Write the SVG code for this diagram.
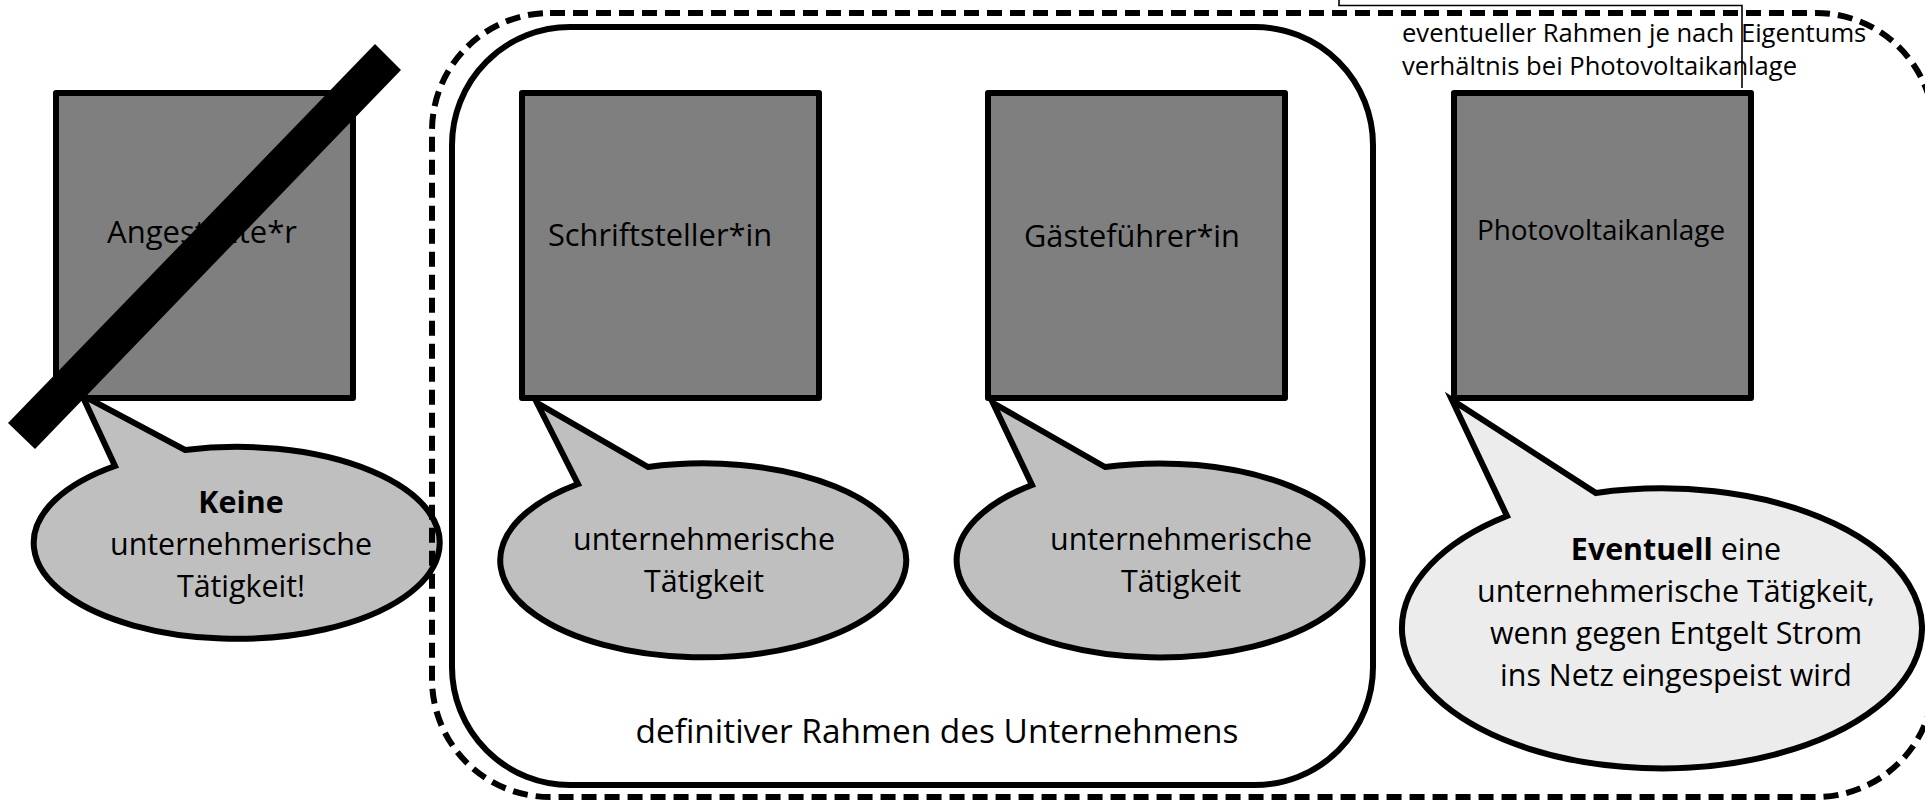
<svg xmlns="http://www.w3.org/2000/svg" width="1925" height="804" viewBox="0 0 1925 804">
<style>
  .box{fill:#7f7f7f;stroke:#000;stroke-width:6;stroke-linejoin:round}
  .bub{fill:#bfbfbf;stroke:#000;stroke-width:6;stroke-linejoin:miter}
  .bub4{fill:#ececec;stroke:#000;stroke-width:6;stroke-linejoin:miter}
  .t{font-family:"Open Sans","Liberation Sans",sans-serif;fill:#000;text-anchor:middle}
  .frame{fill:none;stroke:#000;stroke-width:6}
  .dash{fill:none;stroke:#000;stroke-width:6;stroke-dasharray:15 8}
</style>
<rect width="1925" height="804" fill="#fff"/>

<g id="frame-definitiv">
  <rect class="frame" x="452" y="27" width="921" height="758" rx="118" ry="118"/>
  <text class="t" x="937" y="743" font-size="33.4">definitiver Rahmen des Unternehmens</text>
</g>

<g id="node-angestellte">
  <rect class="box" x="56" y="93" width="297" height="305"/>
  <text class="t" x="202" y="243" font-size="31">Angestellte*r</text>
  <path class="bub" d="M115,466 L82,395 L185,450 A203,96 0 1,1 115,466 Z"/>
  <text class="t" x="241" y="513" font-size="30.4"><tspan font-weight="bold">Keine</tspan><tspan x="241" y="555">unternehmerische</tspan><tspan x="241" y="597">Tätigkeit!</tspan></text>
  <polygon points="375,44 401,70 35,449 8,423" fill="#000"/>
</g>

<g id="frame-eventuell">
  <rect class="dash" x="432" y="13" width="1502" height="784" rx="118" ry="118"/>
  <path d="M1339,0 V5.5 H1742 V88" fill="none" stroke="#000" stroke-width="1.6"/>
  <text x="1402" y="42" font-family="'Open Sans','Liberation Sans',sans-serif" font-size="25.6" fill="#000">eventueller Rahmen je nach Eigentums</text>
  <text x="1402" y="75" font-family="'Open Sans','Liberation Sans',sans-serif" font-size="25.6" fill="#000">verhältnis bei Photovoltaikanlage</text>
</g>

<g id="node-schriftsteller">
  <rect class="box" x="522" y="93" width="297" height="305"/>
  <text class="t" x="660" y="246" font-size="30.8">Schriftsteller*in</text>
  <path class="bub" d="M578,484 L537,403 L648,467 A203,97 0 1,1 578,484 Z"/>
  <text class="t" x="704" y="550" font-size="30.4">unternehmerische<tspan x="704" y="592">Tätigkeit</tspan></text>
</g>

<g id="node-gaestefuehrer">
  <rect class="box" x="988" y="93" width="297" height="305"/>
  <text class="t" x="1132" y="247" font-size="30.7">Gästeführer*in</text>
  <path class="bub" d="M1032,485 L993,403 L1105,467 A203,97 0 1,1 1032,485 Z"/>
  <text class="t" x="1181" y="550" font-size="30.4">unternehmerische<tspan x="1181" y="592">Tätigkeit</tspan></text>
</g>

<g id="node-photovoltaik">
  <rect class="box" x="1454" y="93" width="297" height="305"/>
  <text class="t" x="1601" y="240" font-size="27.9">Photovoltaikanlage</text>
  <path class="bub4" d="M1507,516 L1452,400 L1596,493 A260,140 0 1,1 1507,516 Z"/>
  <text class="t" x="1676" y="560" font-size="30.4"><tspan font-weight="bold">Eventuell</tspan> eine<tspan x="1676" y="602">unternehmerische Tätigkeit,</tspan><tspan x="1676" y="644">wenn gegen Entgelt Strom</tspan><tspan x="1676" y="686">ins Netz eingespeist wird</tspan></text>
</g>

<g id="connectors"/>
</svg>
